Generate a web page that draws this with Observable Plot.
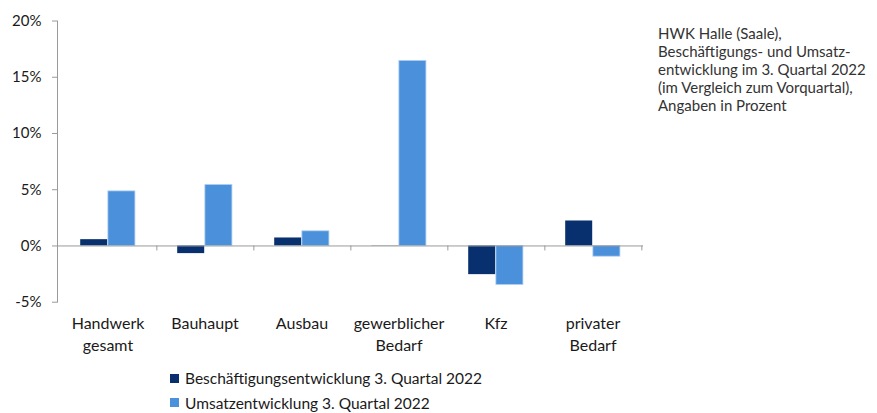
<!DOCTYPE html>
<html>
<head>
<meta charset="utf-8">
<script src="https://cdn.jsdelivr.net/npm/d3@7"></script>
<script src="https://cdn.jsdelivr.net/npm/@observablehq/plot@0.6"></script>
<style>
  body { margin: 0; background: #fff; }
  #wrap { position: relative; width: 877px; height: 413px; font-family: Lato, sans-serif; overflow: hidden; }
  #chart { position: absolute; left: 0; top: 0; }
  #title { position: absolute; left: 658px; top: 24px; font-size: 15px; line-height: 18px; color: #333; }
  #legend { position: absolute; left: 170px; top: 366px; font-size: 15.5px; color: #1a1a1a; }
  .row { height: 24.5px; display: flex; align-items: center; }
  .sw { width: 9px; height: 9px; margin-right: 6px; }
</style>
</head>
<body>
<div id="wrap">
  <div id="chart"></div>
  <div id="title">HWK Halle (Saale),<br>Beschäftigungs- und Umsatz-<br>entwicklung im 3. Quartal 2022<br>(im Vergleich zum Vorquartal),<br>Angaben in Prozent</div>
  <div id="legend"></div>
</div>
<script>
// Sectors (x categories) and their multi-line labels
const categories = ["Handwerk gesamt", "Bauhaupt", "Ausbau", "gewerblicher Bedarf", "Kfz", "privater Bedarf"];
const categoryLabels = ["Handwerk\ngesamt", "Bauhaupt", "Ausbau", "gewerblicher\nBedarf", "Kfz", "privater\nBedarf"];

// Change vs. previous quarter, in percent
const beschaeftigung = [0.56, -0.68, 0.71, 0.02, -2.55, 2.22];
const umsatz = [4.85, 5.41, 1.3, 16.44, -3.46, -0.95];

const seriesNames = ["Beschäftigungsentwicklung 3. Quartal 2022", "Umsatzentwicklung 3. Quartal 2022"];
const seriesColors = ["#08306e", "#4a90db"];

const yTicks = [-5, 0, 5, 10, 15, 20];

const rowsB = categories.map((c, i) => ({category: c, value: beschaeftigung[i]}));
const rowsU = categories.map((c, i) => ({category: c, value: umsatz[i]}));
const labelOf = new Map(categories.map((c, i) => [c, categoryLabels[i]]));

const chart = Plot.plot({
  width: 877,
  height: 360,
  marginLeft: 57,
  marginRight: 234,
  marginTop: 20.5,
  marginBottom: 58.3,
  style: {fontFamily: "Lato, sans-serif", fontSize: "15px", color: "#1a1a1a", background: "transparent"},
  x: {domain: categories, padding: 0},
  y: {domain: [-5, 20]},
  marks: [
    Plot.barY(rowsB, {x: "category", y: "value", fill: seriesColors[0], insetLeft: 21.2, insetRight: 48.8}),
    Plot.barY(rowsU, {x: "category", y: "value", fill: seriesColors[1], stroke: "#a9cbf0", strokeWidth: 0.8, insetLeft: 48.9, insetRight: 21.1}),
    Plot.ruleY([0], {stroke: "#9a9a9a", strokeWidth: 1}),
    // category separators hanging below the zero line
    Plot.ruleX(categories, {x: d => d, y1: 0, y2: 0, insetBottom: -5, dx: 48.85, stroke: "#9a9a9a"}),
    Plot.frame({anchor: "left", stroke: "#9a9a9a"}),
    Plot.axisY({ticks: yTicks, tickFormat: d => d + "%", tickSize: 5, tickPadding: 11, stroke: "#9a9a9a", label: null, fontSize: 15}),
    Plot.axisX({tickSize: 0, tickPadding: 11.5, tickFormat: d => labelOf.get(d), lineHeight: 1.375, label: null, fontSize: 16})
  ]
});
document.getElementById("chart").appendChild(chart);

const legend = document.getElementById("legend");
seriesNames.forEach((name, i) => {
  const row = document.createElement("div");
  row.className = "row";
  const sw = document.createElement("span");
  sw.className = "sw";
  sw.style.background = seriesColors[i];
  row.appendChild(sw);
  row.appendChild(document.createTextNode(name));
  legend.appendChild(row);
});
</script>
</body>
</html>
